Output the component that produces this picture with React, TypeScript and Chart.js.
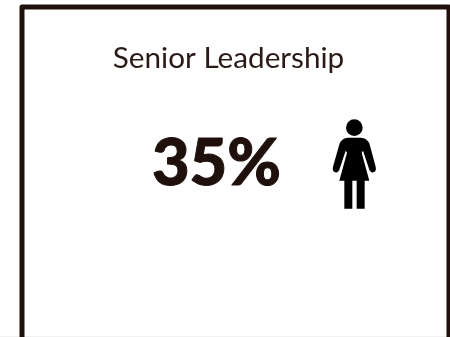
import React, { useEffect, useRef } from "react";
import { Chart, registerables, Plugin } from "chart.js";

Chart.register(...registerables);

const groups = ["Senior Leadership"];
const womenShare = [35];

const INK = "#1f100c";
const FONT = "Lato, sans-serif";

// Pictogram of a woman, drawn on a small sprite used as the point style.
function makeFigure(): HTMLCanvasElement {
  const sprite = document.createElement("canvas");
  sprite.width = 70;
  sprite.height = 110;
  const ctx = sprite.getContext("2d")!;
  ctx.scale(1 / 3, 1 / 3);
  ctx.fillStyle = "#000";
  ctx.beginPath();
  ctx.arc(103, 53, 25, 0, Math.PI * 2);
  ctx.fill();
  const body = new Path2D(
    "M84 83 L122 83 Q142 85 148 100 L167 170 Q170 184 160 187 Q151 189 147 176 L129 122 L125 128 L148 212 " +
      "L134 212 L134 296 L110 296 L110 212 L97 212 L97 296 L73 296 L73 212 L58 212 L81 128 L77 122 " +
      "L59 176 Q55 189 46 187 Q36 184 39 170 L59 100 Q65 85 84 83 Z"
  );
  ctx.fill(body);
  return sprite;
}

// Card frame, heading and the big percentage figure.
const cardPlugin: Plugin<"line"> = {
  id: "card",
  beforeDraw(chart) {
    const { ctx } = chart;
    ctx.save();
    ctx.fillStyle = "#ffffff";
    ctx.fillRect(0, 0, chart.width, chart.height);
    ctx.strokeStyle = "#f1f1f1";
    ctx.lineWidth = 1;
    ctx.beginPath();
    ctx.moveTo(0, 336.5);
    ctx.lineTo(chart.width, 336.5);
    ctx.stroke();
    ctx.strokeStyle = INK;
    ctx.lineWidth = 5;
    ctx.lineJoin = "round";
    ctx.beginPath();
    ctx.moveTo(22, 345);
    ctx.lineTo(22, 7);
    ctx.lineTo(449, 7);
    ctx.lineTo(449, 345);
    ctx.stroke();
    ctx.restore();
  },
  afterDatasetsDraw(chart) {
    const { ctx } = chart;
    const point = chart.getDatasetMeta(0).data[0];
    ctx.save();
    ctx.textBaseline = "alphabetic";
    ctx.textAlign = "center";
    ctx.fillStyle = "#2a1a17";
    ctx.font = `400 29.7px ${FONT}`;
    ctx.fillText(groups[0], 228.5, 68);
    ctx.fillStyle = INK;
    ctx.strokeStyle = INK;
    ctx.lineWidth = 1;
    ctx.lineJoin = "round";
    ctx.font = `900 65px ${FONT}`;
    const label = `${womenShare[0]}%`;
    ctx.fillText(label, point.x - 138.5, point.y + 20);
    ctx.strokeText(label, point.x - 138.5, point.y + 20);
    ctx.restore();
  },
};

export default function App() {
  const ref = useRef<HTMLCanvasElement>(null);

  useEffect(() => {
    const chart = new Chart(ref.current!, {
      type: "line",
      data: {
        labels: groups,
        datasets: [
          {
            data: womenShare,
            showLine: false,
            pointStyle: makeFigure(),
          },
        ],
      },
      options: {
        animation: false,
        responsive: false,
        layout: { padding: { left: 305, right: 45, top: 115, bottom: 122 } },
        plugins: {
          legend: { display: false },
          title: { display: false },
          tooltip: { enabled: false },
        },
        scales: {
          x: { display: false, offset: true },
          y: { display: false, min: 0, max: 70 },
        },
      },
      plugins: [cardPlugin],
    });
    return () => chart.destroy();
  }, []);

  return (
    <canvas
      ref={ref}
      width={450}
      height={337}
      style={{ position: "absolute", left: 0, top: 0, display: "block" }}
    />
  );
}
